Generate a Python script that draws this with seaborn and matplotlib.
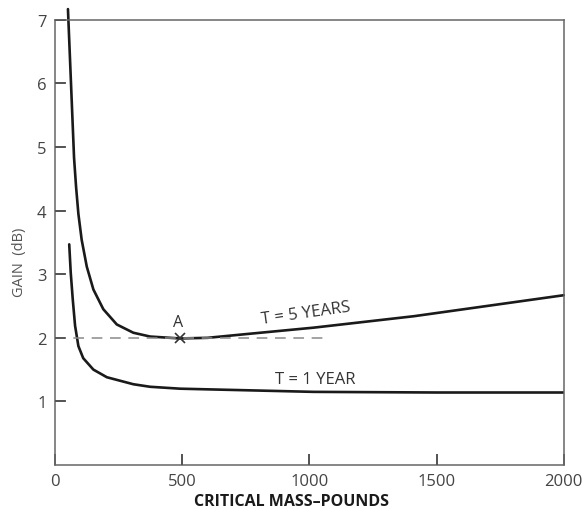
import numpy as np
import pandas as pd
import matplotlib
matplotlib.use("Agg")
import matplotlib.pyplot as plt
import seaborn as sns

# Data
mass_5yr = [51, 59, 67, 75, 83, 92, 105, 125, 151, 190, 243, 308, 374, 492, 600, 755, 1017, 1411, 2000]
gain_5yr = [7.17, 6.39, 5.61, 4.83, 4.37, 3.95, 3.54, 3.12, 2.76, 2.45, 2.21, 2.08, 2.02, 1.99, 2.0, 2.06, 2.16, 2.34, 2.67]
mass_1yr = [56, 62, 70, 79, 92, 111, 151, 204, 308, 374, 492, 1017, 1500, 2000]
gain_1yr = [3.47, 3.02, 2.60, 2.19, 1.87, 1.68, 1.50, 1.38, 1.27, 1.23, 1.20, 1.15, 1.14, 1.14]
ref_x = [0, 1060]
ref_y = [2.0, 2.0]
point_a = (490, 2.0)
x_ticks = [0, 500, 1000, 1500, 2000]
y_ticks = [1, 2, 3, 4, 5, 6, 7]

sns.set_theme(style="ticks")
plt.rcParams['font.family'] = ['Open Sans', 'DejaVu Sans']

df5 = pd.DataFrame({"mass": mass_5yr, "gain": gain_5yr})
df1 = pd.DataFrame({"mass": mass_1yr, "gain": gain_1yr})

fig = plt.figure(figsize=(5.83, 5.10), dpi=100)
ax = fig.add_axes([0.0943, 0.0863, 0.8727, 0.8727])

sns.lineplot(data=df5, x="mass", y="gain", ax=ax, color="#1a1a1a", linewidth=1.9,
             sort=False, estimator=None, clip_on=False)
sns.lineplot(data=df1, x="mass", y="gain", ax=ax, color="#1a1a1a", linewidth=1.9,
             sort=False, estimator=None)
ax.plot(ref_x, ref_y, color="#8a8a8a", linewidth=1.1, linestyle=(0, (7, 5)))
ax.plot([point_a[0]], [point_a[1]], marker="x", color="#333333", markersize=7, mew=1.2)
ax.text(point_a[0] - 5, point_a[1] + 0.12, "A", ha="center", va="bottom", fontsize=11.5, color="#333333")

ax.text(985, 2.40, "T = 5 YEARS", ha="center", va="center", fontsize=12, color="#333333", rotation=8)
ax.text(1024, 1.36, "T = 1 YEAR", ha="center", va="center", fontsize=12, color="#333333")

ax.set_xlim(0, 2000)
ax.set_ylim(0, 7)
ax.set_xticks(x_ticks)
ax.set_yticks(y_ticks)
ax.tick_params(axis="both", which="major", direction="in", length=8, width=1.3, color="#555555",
               labelsize=12, labelcolor="#444444", pad=6, bottom=True, left=True,
               top=False, right=False)
# inward tick marks drawn explicitly at the tick positions
ax.vlines(x_ticks[1:-1], 0, 0.024, transform=ax.get_xaxis_transform(),
          colors="#555555", linewidth=1.3, zorder=5)
ax.hlines(y_ticks, 0, 0.02, transform=ax.get_yaxis_transform(),
          colors="#555555", linewidth=1.3, zorder=5)
for s in ax.spines.values():
    s.set_visible(True)
    s.set_color("#666666")
    s.set_linewidth(1.1)

ax.set_xlabel("")
ax.set_ylabel("")
fig.text(291 / 583, 1 - 502 / 510, "CRITICAL MASS\u2013POUNDS", ha="center", va="center",
         fontsize=11.5, fontweight="bold", color="#1a1a1a")
fig.text(20 / 583, 1 - 262 / 510, "GAIN  (dB)", ha="center", va="center", rotation=90,
         fontsize=10.5, color="#555555")

fig.savefig("out.png", dpi=100)
